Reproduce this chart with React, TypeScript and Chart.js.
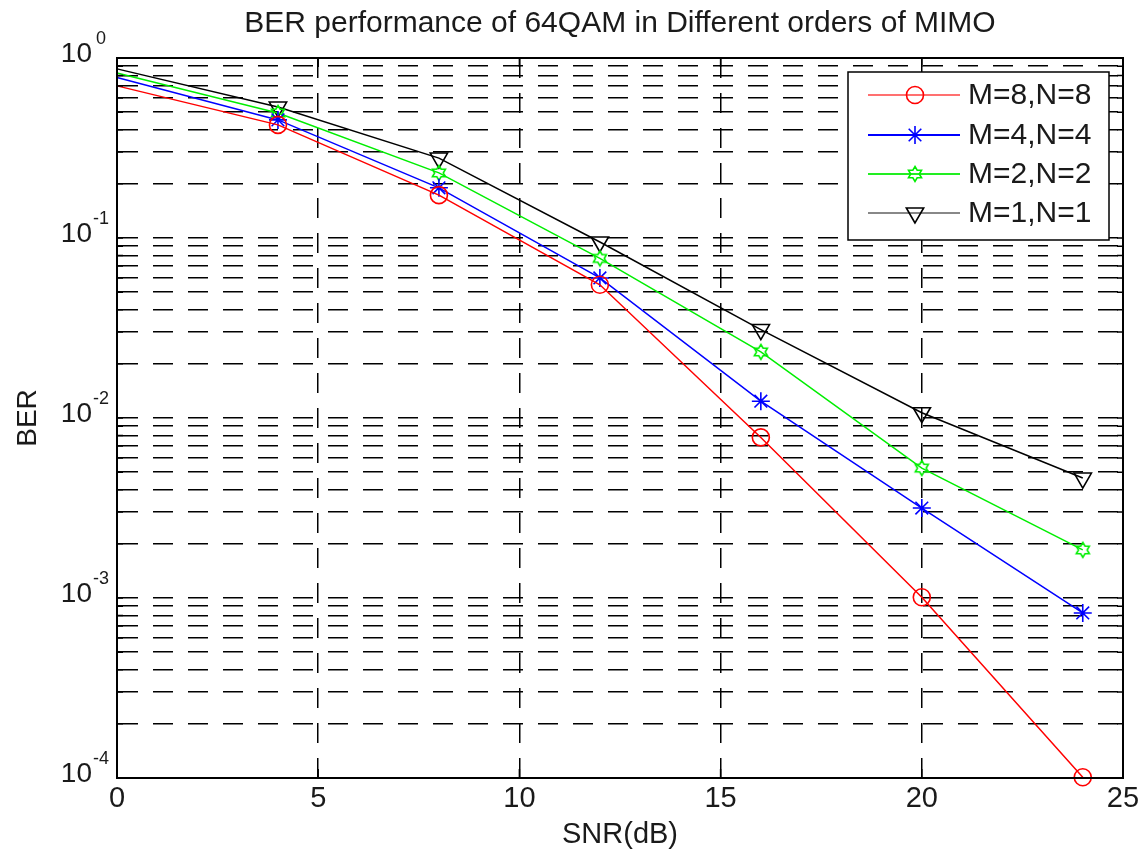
import React, { useEffect, useRef } from "react";
import { Chart, registerables } from "chart.js";

Chart.register(...registerables);

const chartTitle = "BER performance of 64QAM in Different orders of MIMO";
const xAxisTitle = "SNR(dB)";
const yAxisTitle = "BER";
const snrDb = [0, 4, 8, 12, 16, 20, 24];
const berM8 = [0.7, 0.425, 0.173, 0.055, 0.0078, 0.00101, 0.000101];
const berM4 = [0.78, 0.453, 0.19, 0.06, 0.0124, 0.00316, 0.000826];
const berM2 = [0.825, 0.495, 0.23, 0.077, 0.0233, 0.00527, 0.00185];
const berM1 = [0.87, 0.534, 0.278, 0.095, 0.031, 0.0107, 0.00464];
const seriesLabels = ["M=8,N=8", "M=4,N=4", "M=2,N=2", "M=1,N=1"];
const seriesColors = ["#ff0000", "#0000ff", "#00ee00", "#000000"];
const legendLineColors = ["#ff7070", "#0000ff", "#22ee22", "#888888"];
const xTicks = [0, 5, 10, 15, 20, 25];
const yTickExponents = [0, -1, -2, -3, -4];
const yMinorMultipliers = [1, 2, 3, 4, 5, 6, 7, 8, 9];

const FONT = '"Liberation Sans", Arial, sans-serif';

function makeHexagram(color: string): HTMLCanvasElement {
  const c = document.createElement("canvas");
  c.width = 20;
  c.height = 20;
  const g = c.getContext("2d")!;
  const R = 7.5;
  const r = R / Math.sqrt(3);
  g.beginPath();
  for (let i = 0; i < 12; i++) {
    const ang = -Math.PI / 2 + (i * Math.PI) / 6;
    const rad = i % 2 === 0 ? R : r;
    const px = 10 + rad * Math.cos(ang);
    const py = 10 + rad * Math.sin(ang);
    if (i === 0) g.moveTo(px, py);
    else g.lineTo(px, py);
  }
  g.closePath();
  g.strokeStyle = color;
  g.lineWidth = 1.6;
  g.stroke();
  return c;
}

function drawMarker(ctx: CanvasRenderingContext2D, kind: number, x: number, y: number, color: string, hex: HTMLCanvasElement) {
  ctx.save();
  ctx.strokeStyle = color;
  ctx.lineWidth = 1.6;
  ctx.beginPath();
  if (kind === 0) {
    ctx.arc(x, y, 8.5, 0, Math.PI * 2);
    ctx.stroke();
  } else if (kind === 1) {
    const r = 9;
    ctx.moveTo(x - r, y);
    ctx.lineTo(x + r, y);
    ctx.moveTo(x, y - r);
    ctx.lineTo(x, y + r);
    const d = r * 0.7;
    ctx.moveTo(x - d, y - d);
    ctx.lineTo(x + d, y + d);
    ctx.moveTo(x - d, y + d);
    ctx.lineTo(x + d, y - d);
    ctx.stroke();
  } else if (kind === 2) {
    ctx.drawImage(hex, x - hex.width / 2, y - hex.height / 2);
  } else {
    const r = 10;
    for (let i = 0; i < 3; i++) {
      const a = Math.PI / 2 + (i * 2 * Math.PI) / 3;
      const px = x + r * Math.cos(a);
      const py = y + r * Math.sin(a);
      if (i === 0) ctx.moveTo(px, py);
      else ctx.lineTo(px, py);
    }
    ctx.closePath();
    ctx.stroke();
  }
  ctx.restore();
}

export default function App() {
  const ref = useRef<HTMLCanvasElement | null>(null);

  useEffect(() => {
    if (!ref.current) return;
    const hex = makeHexagram(seriesColors[2]);
    const seriesValues = [berM8, berM4, berM2, berM1];
    const pointStyles: any[] = ["circle", "star", hex, "triangle"];
    const pointRadii = [8.5, 9, 8, 10];

    const datasets = seriesValues.map((vals, k) => ({
      label: seriesLabels[k],
      data: snrDb.map((x, i) => ({ x, y: vals[i] })),
      borderColor: seriesColors[k],
      backgroundColor: "transparent",
      borderWidth: 1.5,
      pointStyle: pointStyles[k],
      pointRotation: k === 3 ? 180 : 0,
      pointRadius: (c: any) => (c.dataIndex === 0 ? 0 : pointRadii[k]),
      pointBorderColor: seriesColors[k],
      pointBorderWidth: 1.6,
      pointBackgroundColor: "transparent",
      tension: 0,
      clip: false as any,
    }));

    const overlay = {
      id: "matlabOverlay",
      afterDraw(chart: any) {
        const ctx: CanvasRenderingContext2D = chart.ctx;
        const a = chart.chartArea;
        const ys = chart.scales.y;
        const xs = chart.scales.x;
        ctx.save();
        // inner tick marks
        ctx.strokeStyle = "#000";
        ctx.lineWidth = 1.5;
        ctx.beginPath();
        yTickExponents.forEach((e) => {
          yMinorMultipliers.forEach((m) => {
            const v = m * Math.pow(10, e);
            if (v > 1 + 1e-9 || v < 1e-4 - 1e-12) return;
            const py = ys.getPixelForValue(v);
            ctx.moveTo(a.right, py);
            ctx.lineTo(a.right - 6, py);
            ctx.moveTo(a.left, py);
            ctx.lineTo(a.left + 6, py);
          });
        });
        xTicks.forEach((t) => {
          const px = xs.getPixelForValue(t);
          ctx.moveTo(px, a.bottom);
          ctx.lineTo(px, a.bottom - 9);
          ctx.moveTo(px, a.top);
          ctx.lineTo(px, a.top + 9);
        });
        ctx.stroke();
        // box
        ctx.lineWidth = 2;
        ctx.strokeRect(a.left, a.top, a.right - a.left, a.bottom - a.top);
        // title
        ctx.fillStyle = "#1a1a1a";
        ctx.font = `30px ${FONT}`;
        ctx.textAlign = "center";
        ctx.textBaseline = "middle";
        ctx.fillText(chartTitle, (a.left + a.right) / 2, 24);
        // y tick labels
        yTickExponents.forEach((e) => {
          const py = ys.getPixelForValue(Math.pow(10, e));
          ctx.font = `28px ${FONT}`;
          ctx.textAlign = "right";
          ctx.textBaseline = "middle";
          ctx.fillText("10", 92, py - 4);
          ctx.font = `18px ${FONT}`;
          ctx.textAlign = "left";
          ctx.fillText(String(e), e === 0 ? 96 : 93, py - 19);
        });
        // legend
        const lx = 848, ly = 72, lw = 261, lh = 168;
        ctx.fillStyle = "#fff";
        ctx.fillRect(lx, ly, lw, lh);
        ctx.strokeStyle = "#000";
        ctx.lineWidth = 1.5;
        ctx.strokeRect(lx, ly, lw, lh);
        const rows = [95, 135, 174, 213];
        seriesLabels.forEach((lab, k) => {
          const ry = rows[k];
          ctx.strokeStyle = legendLineColors[k];
          ctx.lineWidth = 2;
          ctx.beginPath();
          ctx.moveTo(868, ry);
          ctx.lineTo(960, ry);
          ctx.stroke();
          drawMarker(ctx, k, 915, ry, seriesColors[k], hex);
          ctx.fillStyle = "#1a1a1a";
          ctx.font = `30px ${FONT}`;
          ctx.textAlign = "left";
          ctx.textBaseline = "middle";
          ctx.fillText(lab, 968, ry + 1);
        });
        ctx.restore();
      },
    };

    const chart = new Chart(ref.current, {
      type: "line",
      data: { datasets: datasets as any },
      options: {
        animation: false,
        responsive: false,
        maintainAspectRatio: false,
        layout: { padding: { top: 58, right: 24, bottom: 0, left: 0 } },
        plugins: {
          legend: { display: false },
          title: { display: false },
          tooltip: { enabled: false },
        },
        scales: {
          x: {
            type: "linear",
            min: 0,
            max: 25,
            afterBuildTicks: (s: any) => {
              s.ticks = xTicks.map((v) => ({ value: v }));
            },
            afterFit: (s: any) => {
              s.height = 74;
            },
            ticks: {
              font: { family: FONT, size: 29 },
              color: "#1a1a1a",
              padding: 4,
              maxRotation: 0,
              autoSkip: false,
            },
            grid: { color: "#000", lineWidth: 1.5, drawTicks: false },
            border: { display: true, color: "#000", width: 2, dash: [20, 15] },
            title: {
              display: true,
              text: xAxisTitle,
              font: { family: FONT, size: 29 },
              color: "#1a1a1a",
              padding: { top: 0, bottom: 0 },
            },
          },
          y: {
            type: "logarithmic",
            min: 1e-4,
            max: 1,
            afterBuildTicks: (s: any) => {
              const t: any[] = [];
              yTickExponents
                .slice()
                .reverse()
                .forEach((e) => {
                  yMinorMultipliers.forEach((m) => {
                    const v = m * Math.pow(10, e);
                    if (v <= 1 + 1e-9 && v >= 1e-4 - 1e-12) t.push({ value: v, major: m === 1 });
                  });
                });
              s.ticks = t;
            },
            afterFit: (s: any) => {
              s.width = 117;
            },
            ticks: { display: false, callback: () => "" },
            grid: { color: "#000", lineWidth: 1.5, drawTicks: false },
            border: { display: true, color: "#000", width: 2, dash: [20, 15] },
            title: {
              display: true,
              text: yAxisTitle,
              font: { family: FONT, size: 28 },
              color: "#1a1a1a",
              padding: { top: 11, bottom: 0 },
            },
          },
        },
      },
      plugins: [overlay],
    });
    return () => chart.destroy();
  }, []);

  return (
    <div style={{ position: "absolute", left: 0, top: 0, width: 1147, height: 852, background: "#fff" }}>
      <canvas ref={ref} width={1147} height={852} style={{ display: "block", width: 1147, height: 852 }} />
    </div>
  );
}
